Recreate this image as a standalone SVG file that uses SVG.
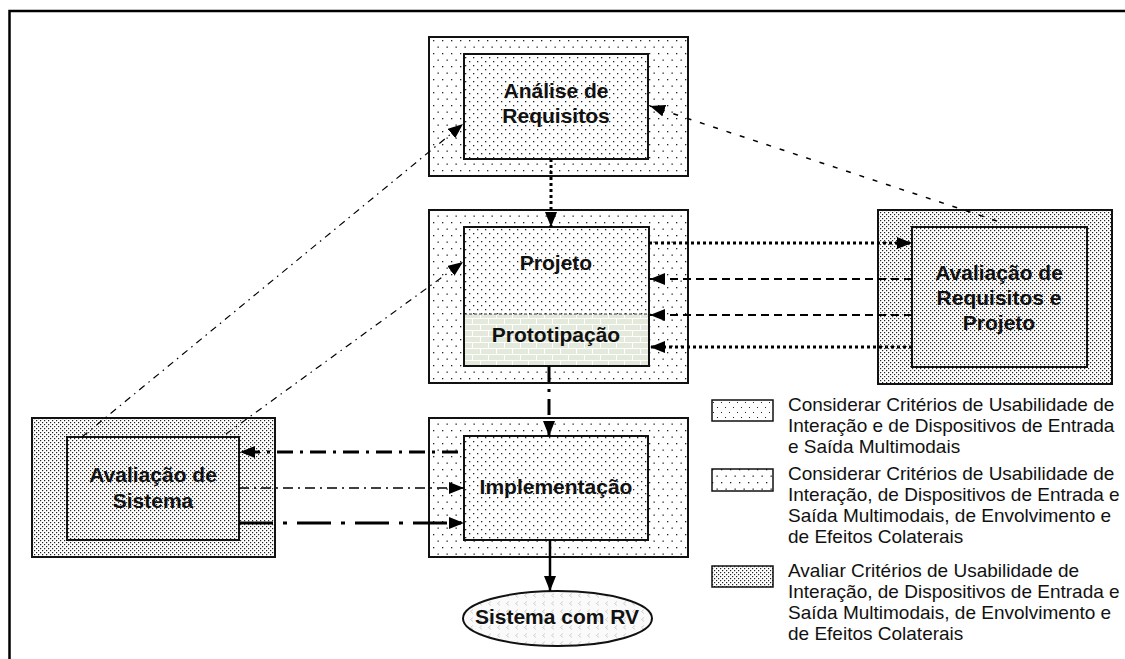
<svg xmlns="http://www.w3.org/2000/svg" width="1125" height="659" viewBox="0 0 1125 659">
  <defs>
    <!-- fill textures -->
    <pattern id="dotSparse" width="8" height="10" patternUnits="userSpaceOnUse">
      <rect width="8" height="10" fill="#fff"/>
      <rect x="1" y="2" width="1" height="1" fill="#222"/>
      <rect x="5" y="7" width="1" height="1" fill="#222"/>
    </pattern>
    <pattern id="dotMedium" width="9" height="13" patternUnits="userSpaceOnUse">
      <rect width="9" height="13" fill="#fff"/>
      <rect x="1" y="1" width="1.3" height="1.3" fill="#222"/>
      <rect x="5.5" y="7.5" width="1.3" height="1.3" fill="#222"/>
    </pattern>
    <pattern id="dotInner" width="8" height="8" patternUnits="userSpaceOnUse">
      <rect width="8" height="8" fill="#fff"/>
      <rect x="1" y="1" width="1.3" height="1.3" fill="#222"/>
      <rect x="5" y="5" width="1.3" height="1.3" fill="#222"/>
    </pattern>
    <pattern id="dotDense" width="4" height="4" patternUnits="userSpaceOnUse">
      <rect width="4" height="4" fill="#fff"/>
      <rect x="0" y="0" width="1.2" height="1.2" fill="#222"/>
      <rect x="2" y="2" width="1.2" height="1.2" fill="#222"/>
    </pattern>
    <pattern id="brick" width="16" height="12" patternUnits="userSpaceOnUse">
      <rect width="16" height="12" fill="#e3eadb"/>
      <path d="M0,0.5 H16 M0,6.5 H16 M0.5,0 V6 M8.5,6 V12" stroke="#fff" stroke-width="1" fill="none"/>
    </pattern>
    <pattern id="chevron" width="9" height="8" patternUnits="userSpaceOnUse">
      <rect width="9" height="8" fill="#fafafa"/>
      <path d="M5,1.5 L2.5,3.5 L5,5.5" stroke="#c4c4c4" stroke-width="0.8" fill="none"/>
    </pattern>
    <marker id="head" viewBox="0 0 15 12" refX="15" refY="6" markerWidth="15" markerHeight="12" markerUnits="userSpaceOnUse" orient="auto">
      <path d="M0,0 L15,6 L0,12 z" fill="#000"/>
    </marker>
    <style>
      .outer { stroke: #111; stroke-width: 2; }
      .inner { stroke: #111; stroke-width: 2; }
      .label { font-family: "Liberation Sans", Arial, sans-serif; font-weight: bold; font-size: 21px; fill: #111; text-anchor: middle; }
      .legend { font-family: "Liberation Sans", Arial, sans-serif; font-size: 19px; fill: #111; }
      .key { stroke: #111; stroke-width: 1.5; }
      .conn { fill: none; stroke: #000; }
      .dotted { stroke-width: 3; stroke-dasharray: 3 3; }
      .dashed { stroke-width: 2; stroke-dasharray: 8 5; }
      .thinDash { stroke-width: 1.5; stroke-dasharray: 5 9; }
      .thinDashDot { stroke-width: 1.2; stroke-dasharray: 7 5 1.5 5; }
      .boldDashDot { stroke-width: 3; stroke-dasharray: 16 7 3 7; }
      .midDashDot { stroke-width: 1.5; stroke-dasharray: 10 5 2 5; }
      .longDashDot { stroke-width: 3; stroke-dasharray: 34 10 4 10; }
      .solid { stroke-width: 2.5; }
    </style>
  </defs>

  <rect width="1125" height="659" fill="#fff"/>
  <!-- page frame (open at right and bottom) -->
  <path d="M9.5,659 V11 H1125" fill="none" stroke="#000" stroke-width="2.5"/>

  <g id="analise-requisitos">
    <rect class="outer" x="429" y="37" width="259" height="139" fill="url(#dotMedium)"/>
    <rect class="inner" x="464" y="54" width="184" height="105" fill="url(#dotInner)"/>
    <text class="label" x="556" y="98">Análise de</text>
    <text class="label" x="556" y="123">Requisitos</text>
  </g>

  <g id="projeto">
    <rect class="outer" x="429" y="210" width="259" height="173" fill="url(#dotMedium)"/>
    <rect x="464" y="227" width="185" height="87" fill="url(#dotInner)"/>
    <rect x="464" y="314" width="185" height="52" fill="url(#brick)"/>
    <line x1="464" y1="314" x2="649" y2="314" stroke="#333" stroke-width="1" stroke-dasharray="3 2"/>
    <rect class="inner" x="464" y="227" width="185" height="139" fill="none"/>
    <text class="label" x="556" y="270">Projeto</text>
    <text class="label" x="556" y="342">Prototipação</text>
  </g>

  <g id="avaliacao-requisitos-projeto">
    <rect class="outer" x="878" y="210" width="234" height="174" fill="url(#dotDense)"/>
    <rect class="inner" x="912" y="227" width="175" height="140" fill="url(#dotDense)"/>
    <text class="label" x="999" y="280">Avaliação de</text>
    <text class="label" x="999" y="305">Requisitos e</text>
    <text class="label" x="999" y="330">Projeto</text>
  </g>

  <g id="avaliacao-sistema">
    <rect class="outer" x="32" y="418" width="243" height="139" fill="url(#dotDense)"/>
    <rect class="inner" x="67" y="437" width="172" height="103" fill="url(#dotDense)"/>
    <text class="label" x="153" y="482">Avaliação de</text>
    <text class="label" x="153" y="508">Sistema</text>
  </g>

  <g id="implementacao">
    <rect class="outer" x="429" y="418" width="259" height="139" fill="url(#dotMedium)"/>
    <rect class="inner" x="464" y="436" width="184" height="104" fill="url(#dotInner)"/>
    <text class="label" x="556" y="494">Implementação</text>
  </g>

  <g id="sistema-rv">
    <ellipse cx="557.5" cy="618.5" rx="94.5" ry="27.5" fill="url(#chevron)" stroke="#111" stroke-width="2"/>
    <text class="label" x="557" y="624">Sistema com RV</text>
  </g>

  <g id="connectors">
    <!-- main flow -->
    <line class="conn dotted" x1="551" y1="159" x2="551" y2="227" marker-end="url(#head)"/>
    <line class="conn boldDashDot" x1="549" y1="366" x2="549" y2="436" marker-end="url(#head)"/>
    <line class="conn solid" x1="550" y1="540" x2="550" y2="591" marker-end="url(#head)"/>

    <!-- design <-> requirement/design evaluation -->
    <line class="conn dotted" x1="649" y1="243" x2="912" y2="243" marker-end="url(#head)"/>
    <line class="conn dashed" x1="912" y1="279" x2="650" y2="279" marker-end="url(#head)"/>
    <line class="conn dashed" x1="912" y1="315" x2="650" y2="315" marker-end="url(#head)"/>
    <line class="conn dotted" x1="912" y1="347" x2="650" y2="347" marker-end="url(#head)"/>

    <!-- evaluation feedback to requirements -->
    <line class="conn thinDash" x1="997" y1="221" x2="650" y2="106" marker-end="url(#head)"/>

    <!-- system evaluation feedback -->
    <line class="conn thinDashDot" x1="82" y1="437" x2="463" y2="124" marker-end="url(#head)"/>
    <line class="conn thinDashDot" x1="226" y1="434" x2="463" y2="262" marker-end="url(#head)"/>

    <!-- implementation <-> system evaluation -->
    <line class="conn boldDashDot" x1="458" y1="452" x2="240" y2="452" marker-end="url(#head)"/>
    <line class="conn midDashDot" x1="239" y1="488" x2="464" y2="488" marker-end="url(#head)"/>
    <line class="conn longDashDot" x1="239" y1="523" x2="464" y2="523" marker-end="url(#head)"/>
  </g>

  <g id="legend-interacao">
    <rect class="key" x="712" y="400" width="61" height="21" fill="url(#dotSparse)"/>
    <text class="legend" x="788" y="411">Considerar Critérios de Usabilidade de</text>
    <text class="legend" x="788" y="432">Interação e de Dispositivos de Entrada</text>
    <text class="legend" x="788" y="453">e Saída Multimodais</text>
  </g>

  <g id="legend-envolvimento">
    <rect class="key" x="712" y="469" width="61" height="22" fill="url(#dotMedium)"/>
    <text class="legend" x="788" y="480">Considerar Critérios de Usabilidade de</text>
    <text class="legend" x="788" y="501">Interação, de Dispositivos de Entrada e</text>
    <text class="legend" x="788" y="522">Saída Multimodais, de Envolvimento e</text>
    <text class="legend" x="788" y="543">de Efeitos Colaterais</text>
  </g>

  <g id="legend-avaliar">
    <rect class="key" x="712" y="566" width="61" height="21" fill="url(#dotDense)"/>
    <text class="legend" x="788" y="577">Avaliar Critérios de Usabilidade de</text>
    <text class="legend" x="788" y="598">Interação, de Dispositivos de Entrada e</text>
    <text class="legend" x="788" y="619">Saída Multimodais, de Envolvimento e</text>
    <text class="legend" x="788" y="640">de Efeitos Colaterais</text>
  </g>
</svg>
